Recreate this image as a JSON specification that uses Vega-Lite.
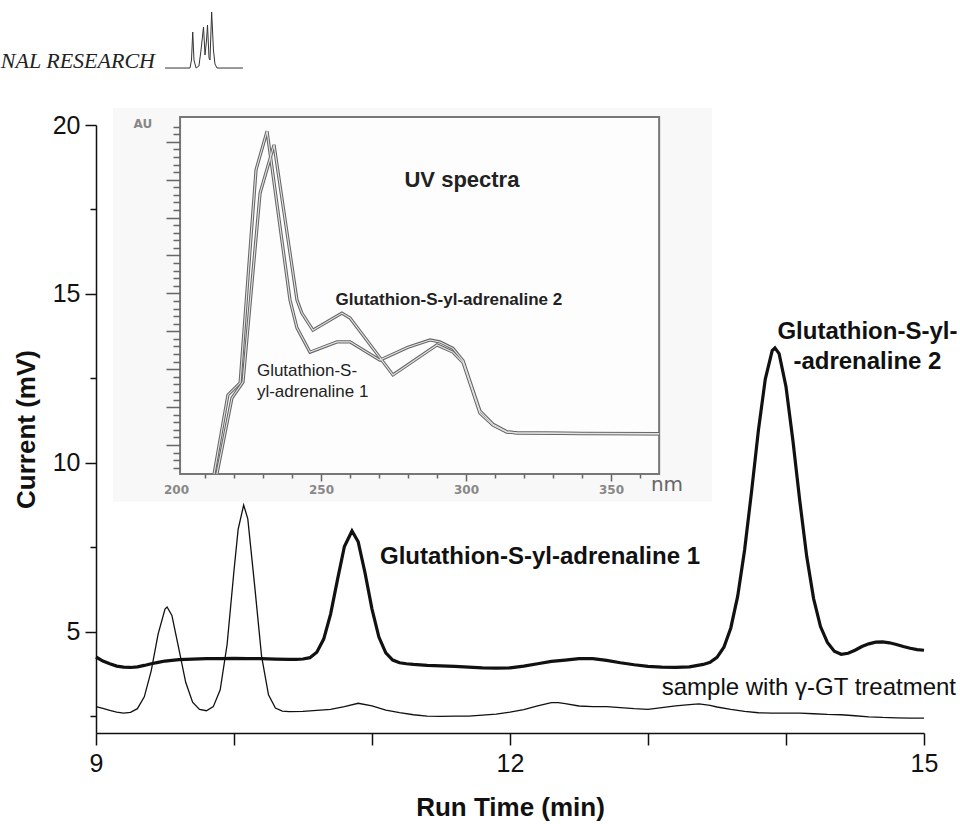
{
  "$schema": "https://vega.github.io/schema/vega-lite/v6.json",
  "width": 828,
  "height": 608,
  "autosize": {"type": "none"},
  "padding": {"left": 96, "top": 125, "right": 36, "bottom": 91},
  "background": "white",
  "config": {"view": {"stroke": null}, "font": "Liberation Sans"},
  "datasets": {
    "untreated": [
      {"t": 9.0, "v": 4.25}, {"t": 9.05, "v": 4.13}, {"t": 9.1, "v": 4.05}, {"t": 9.15, "v": 3.98}, {"t": 9.2, "v": 3.95},
      {"t": 9.25, "v": 3.94}, {"t": 9.3, "v": 3.96}, {"t": 9.35, "v": 4.0}, {"t": 9.4, "v": 4.05}, {"t": 9.45, "v": 4.09},
      {"t": 9.5, "v": 4.13}, {"t": 9.6, "v": 4.17}, {"t": 9.7, "v": 4.19}, {"t": 9.8, "v": 4.2}, {"t": 9.9, "v": 4.2},
      {"t": 10.0, "v": 4.21}, {"t": 10.1, "v": 4.2}, {"t": 10.2, "v": 4.2}, {"t": 10.3, "v": 4.19}, {"t": 10.4, "v": 4.18},
      {"t": 10.45, "v": 4.18}, {"t": 10.5, "v": 4.19}, {"t": 10.55, "v": 4.23}, {"t": 10.6, "v": 4.39}, {"t": 10.65, "v": 4.78},
      {"t": 10.7, "v": 5.52}, {"t": 10.75, "v": 6.54}, {"t": 10.8, "v": 7.52}, {"t": 10.855, "v": 7.98}, {"t": 10.9, "v": 7.66},
      {"t": 10.95, "v": 6.73}, {"t": 11.0, "v": 5.67}, {"t": 11.05, "v": 4.84}, {"t": 11.1, "v": 4.37}, {"t": 11.15, "v": 4.16},
      {"t": 11.2, "v": 4.08}, {"t": 11.25, "v": 4.05}, {"t": 11.3, "v": 4.03}, {"t": 11.4, "v": 4.0}, {"t": 11.5, "v": 3.99},
      {"t": 11.6, "v": 3.97}, {"t": 11.7, "v": 3.95}, {"t": 11.8, "v": 3.93}, {"t": 11.9, "v": 3.92}, {"t": 12.0, "v": 3.93},
      {"t": 12.1, "v": 3.98}, {"t": 12.2, "v": 4.05}, {"t": 12.3, "v": 4.12}, {"t": 12.4, "v": 4.16}, {"t": 12.5, "v": 4.2},
      {"t": 12.6, "v": 4.2}, {"t": 12.7, "v": 4.15}, {"t": 12.8, "v": 4.08}, {"t": 12.9, "v": 4.02}, {"t": 13.0, "v": 3.97},
      {"t": 13.1, "v": 3.95}, {"t": 13.2, "v": 3.94}, {"t": 13.3, "v": 3.96}, {"t": 13.4, "v": 4.03}, {"t": 13.45, "v": 4.09},
      {"t": 13.5, "v": 4.24}, {"t": 13.55, "v": 4.54}, {"t": 13.6, "v": 5.11}, {"t": 13.65, "v": 6.05}, {"t": 13.7, "v": 7.42},
      {"t": 13.75, "v": 9.13}, {"t": 13.8, "v": 10.96}, {"t": 13.85, "v": 12.48}, {"t": 13.9, "v": 13.32}, {"t": 13.92, "v": 13.4},
      {"t": 13.95, "v": 13.23}, {"t": 14.0, "v": 12.25}, {"t": 14.05, "v": 10.66}, {"t": 14.1, "v": 8.87}, {"t": 14.15, "v": 7.23},
      {"t": 14.2, "v": 5.98}, {"t": 14.25, "v": 5.15}, {"t": 14.3, "v": 4.68}, {"t": 14.35, "v": 4.42}, {"t": 14.4, "v": 4.33},
      {"t": 14.45, "v": 4.36}, {"t": 14.5, "v": 4.45}, {"t": 14.55, "v": 4.56}, {"t": 14.6, "v": 4.64}, {"t": 14.65, "v": 4.69},
      {"t": 14.7, "v": 4.7}, {"t": 14.75, "v": 4.67}, {"t": 14.8, "v": 4.62}, {"t": 14.85, "v": 4.56}, {"t": 14.9, "v": 4.51},
      {"t": 14.95, "v": 4.47}, {"t": 15.0, "v": 4.45}
    ],
    "treated": [
      {"t": 9.0, "v": 2.78}, {"t": 9.05, "v": 2.73}, {"t": 9.1, "v": 2.67}, {"t": 9.15, "v": 2.62}, {"t": 9.2, "v": 2.59},
      {"t": 9.25, "v": 2.61}, {"t": 9.3, "v": 2.72}, {"t": 9.35, "v": 3.07}, {"t": 9.4, "v": 3.84}, {"t": 9.45, "v": 4.93},
      {"t": 9.5, "v": 5.67}, {"t": 9.515, "v": 5.73}, {"t": 9.55, "v": 5.48}, {"t": 9.6, "v": 4.5}, {"t": 9.65, "v": 3.5},
      {"t": 9.7, "v": 2.91}, {"t": 9.75, "v": 2.7}, {"t": 9.8, "v": 2.66}, {"t": 9.85, "v": 2.78}, {"t": 9.9, "v": 3.28},
      {"t": 9.95, "v": 4.62}, {"t": 10.0, "v": 6.81}, {"t": 10.03, "v": 8.03}, {"t": 10.07, "v": 8.75}, {"t": 10.1, "v": 8.34},
      {"t": 10.15, "v": 6.35}, {"t": 10.2, "v": 4.27}, {"t": 10.25, "v": 3.13}, {"t": 10.3, "v": 2.74}, {"t": 10.35, "v": 2.65},
      {"t": 10.4, "v": 2.63}, {"t": 10.5, "v": 2.64}, {"t": 10.6, "v": 2.67}, {"t": 10.7, "v": 2.7}, {"t": 10.8, "v": 2.78},
      {"t": 10.9, "v": 2.88}, {"t": 11.0, "v": 2.8}, {"t": 11.1, "v": 2.68}, {"t": 11.2, "v": 2.6}, {"t": 11.3, "v": 2.54},
      {"t": 11.4, "v": 2.5}, {"t": 11.5, "v": 2.49}, {"t": 11.6, "v": 2.5}, {"t": 11.7, "v": 2.5}, {"t": 11.8, "v": 2.53},
      {"t": 11.9, "v": 2.56}, {"t": 12.0, "v": 2.62}, {"t": 12.1, "v": 2.69}, {"t": 12.2, "v": 2.8}, {"t": 12.3, "v": 2.9},
      {"t": 12.35, "v": 2.9}, {"t": 12.4, "v": 2.87}, {"t": 12.5, "v": 2.8}, {"t": 12.6, "v": 2.78}, {"t": 12.7, "v": 2.78},
      {"t": 12.8, "v": 2.75}, {"t": 12.9, "v": 2.72}, {"t": 13.0, "v": 2.7}, {"t": 13.1, "v": 2.75}, {"t": 13.2, "v": 2.8},
      {"t": 13.3, "v": 2.84}, {"t": 13.37, "v": 2.86}, {"t": 13.45, "v": 2.82}, {"t": 13.5, "v": 2.77}, {"t": 13.6, "v": 2.7},
      {"t": 13.7, "v": 2.64}, {"t": 13.8, "v": 2.6}, {"t": 13.9, "v": 2.59}, {"t": 14.0, "v": 2.59}, {"t": 14.1, "v": 2.59},
      {"t": 14.2, "v": 2.57}, {"t": 14.3, "v": 2.55}, {"t": 14.4, "v": 2.54}, {"t": 14.5, "v": 2.51}, {"t": 14.6, "v": 2.48},
      {"t": 14.7, "v": 2.46}, {"t": 14.8, "v": 2.45}, {"t": 14.9, "v": 2.44}, {"t": 15.0, "v": 2.44}
    ],
    "logo": [
      {"t": 9.5, "v": 21.687}, {"t": 9.681, "v": 21.687}, {"t": 9.692, "v": 21.924}, {"t": 9.701, "v": 22.753},
      {"t": 9.71, "v": 21.924}, {"t": 9.725, "v": 21.687}, {"t": 9.746, "v": 21.747}, {"t": 9.761, "v": 22.22},
      {"t": 9.779, "v": 22.901}, {"t": 9.79, "v": 22.072}, {"t": 9.801, "v": 22.516}, {"t": 9.808, "v": 22.96},
      {"t": 9.819, "v": 21.983}, {"t": 9.826, "v": 21.924}, {"t": 9.838, "v": 23.345}, {"t": 9.851, "v": 22.22},
      {"t": 9.862, "v": 21.806}, {"t": 9.877, "v": 21.687}, {"t": 10.065, "v": 21.687}
    ],
    "spectra": [
      {"compound": "adrenaline 1", "nm": 213.1, "au": -0.77}, {"compound": "adrenaline 1", "nm": 217.9, "au": 1.32},
      {"compound": "adrenaline 1", "nm": 222.1, "au": 1.64}, {"compound": "adrenaline 1", "nm": 227.6, "au": 7.26},
      {"compound": "adrenaline 1", "nm": 231.4, "au": 8.28}, {"compound": "adrenaline 1", "nm": 239.3, "au": 3.83},
      {"compound": "adrenaline 1", "nm": 241.7, "au": 3.09}, {"compound": "adrenaline 1", "nm": 246.2, "au": 2.45},
      {"compound": "adrenaline 1", "nm": 255.5, "au": 2.72}, {"compound": "adrenaline 1", "nm": 260.0, "au": 2.72},
      {"compound": "adrenaline 1", "nm": 270.3, "au": 2.24}, {"compound": "adrenaline 1", "nm": 280.0, "au": 2.58},
      {"compound": "adrenaline 1", "nm": 287.6, "au": 2.77}, {"compound": "adrenaline 1", "nm": 291.0, "au": 2.72},
      {"compound": "adrenaline 1", "nm": 295.5, "au": 2.55}, {"compound": "adrenaline 1", "nm": 299.0, "au": 2.22},
      {"compound": "adrenaline 1", "nm": 304.8, "au": 0.9}, {"compound": "adrenaline 1", "nm": 309.3, "au": 0.55},
      {"compound": "adrenaline 1", "nm": 314.1, "au": 0.35}, {"compound": "adrenaline 1", "nm": 317.6, "au": 0.32},
      {"compound": "adrenaline 1", "nm": 340.0, "au": 0.31}, {"compound": "adrenaline 1", "nm": 366.6, "au": 0.3},
      {"compound": "adrenaline 2", "nm": 214.1, "au": -0.77}, {"compound": "adrenaline 2", "nm": 219.3, "au": 1.24},
      {"compound": "adrenaline 2", "nm": 223.1, "au": 1.66}, {"compound": "adrenaline 2", "nm": 229.0, "au": 6.65},
      {"compound": "adrenaline 2", "nm": 233.8, "au": 7.92}, {"compound": "adrenaline 2", "nm": 241.7, "au": 3.83},
      {"compound": "adrenaline 2", "nm": 243.4, "au": 3.48}, {"compound": "adrenaline 2", "nm": 247.2, "au": 3.03},
      {"compound": "adrenaline 2", "nm": 257.2, "au": 3.48}, {"compound": "adrenaline 2", "nm": 260.0, "au": 3.35},
      {"compound": "adrenaline 2", "nm": 274.8, "au": 1.85}, {"compound": "adrenaline 2", "nm": 290.0, "au": 2.64},
      {"compound": "adrenaline 2", "nm": 295.5, "au": 2.45}, {"compound": "adrenaline 2", "nm": 299.0, "au": 2.17},
      {"compound": "adrenaline 2", "nm": 304.8, "au": 0.84}, {"compound": "adrenaline 2", "nm": 309.3, "au": 0.52},
      {"compound": "adrenaline 2", "nm": 314.1, "au": 0.34}, {"compound": "adrenaline 2", "nm": 317.6, "au": 0.32},
      {"compound": "adrenaline 2", "nm": 340.0, "au": 0.3}, {"compound": "adrenaline 2", "nm": 366.6, "au": 0.29}
    ]
  },
  "layer": [
    {
      "data": {"name": "untreated"},
      "mark": {"type": "line", "stroke": "#111", "strokeWidth": 3.2},
      "encoding": {
        "x": {"field": "t", "type": "quantitative",
          "scale": {"domain": [9, 15], "nice": false, "zero": false},
          "axis": {"orient": "bottom", "values": [9, 10, 11, 12, 13, 14, 15], "labelExpr": "datum.value % 3 === 0 ? datum.label : ''",
            "labelOverlap": false, "labelFlush": false, "tickSize": 12, "tickColor": "#111", "tickWidth": 1.5,
            "domainColor": "#111", "domainWidth": 1.5, "labelFontSize": 25, "labelColor": "#111", "labelPadding": 6,
            "labelFont": "Liberation Sans", "grid": false,
            "title": "Run Time (min)", "titleFont": "Liberation Sans", "titleFontSize": 26, "titleFontWeight": "bold",
            "titleColor": "#111", "titleY": 74, "titleBaseline": "middle"}},
        "y": {"field": "v", "type": "quantitative",
          "scale": {"domain": [2, 20], "nice": false, "zero": false},
          "axis": {"orient": "left", "values": [2.5, 5, 7.5, 10, 12.5, 15, 17.5, 20], "labelExpr": "datum.value % 5 === 0 ? datum.label : ''",
            "labelOverlap": false, "labelFlush": false,
            "tickSize": {"condition": {"test": "datum.value % 5 === 0", "value": 11}, "value": 6},
            "tickColor": "#111", "tickWidth": 1.5, "domainColor": "#111", "domainWidth": 1.5,
            "labelFontSize": 25, "labelColor": "#111", "labelPadding": 5, "labelFont": "Liberation Sans", "grid": false,
            "title": "Current (mV)", "titleFont": "Liberation Sans", "titleFontSize": 26, "titleFontWeight": "bold",
            "titleColor": "#111", "titleX": -70, "titleY": 304, "titleBaseline": "middle", "titleAlign": "center"}}
      }
    },
    {
      "data": {"name": "treated"},
      "mark": {"type": "line", "stroke": "#111", "strokeWidth": 1.3},
      "encoding": {
        "x": {"field": "t", "type": "quantitative", "scale": {"domain": [9, 15], "nice": false, "zero": false}, "axis": null},
        "y": {"field": "v", "type": "quantitative", "scale": {"domain": [2, 20], "nice": false, "zero": false}, "axis": null}
      }
    },
    {
      "data": {"name": "logo"},
      "mark": {"type": "line", "stroke": "#333", "strokeWidth": 1},
      "encoding": {
        "x": {"field": "t", "type": "quantitative", "scale": {"domain": [9, 15], "nice": false, "zero": false}, "axis": null},
        "y": {"field": "v", "type": "quantitative", "scale": {"domain": [2, 20], "nice": false, "zero": false}, "axis": null}
      }
    },
    {
      "data": {"values": [{}]},
      "mark": {"type": "text", "text": "NAL  RESEARCH", "font": "Liberation Serif", "fontStyle": "italic", "fontSize": 22, "fill": "#222", "align": "left", "baseline": "alphabetic"},
      "encoding": {
        "x": {"datum": 8.31, "type": "quantitative", "scale": {"domain": [9, 15], "nice": false, "zero": false}, "axis": null},
        "y": {"datum": 21.687, "type": "quantitative", "scale": {"domain": [2, 20], "nice": false, "zero": false}, "axis": null}
      }
    },
    {
      "data": {"values": [{}]},
      "mark": {"type": "text", "text": "Glutathion-S-yl-adrenaline 1", "font": "Liberation Sans", "fontWeight": "bold", "fontSize": 24, "fill": "#111", "align": "left", "baseline": "middle"},
      "encoding": {
        "x": {"datum": 11.058, "type": "quantitative", "scale": {"domain": [9, 15], "nice": false, "zero": false}, "axis": null},
        "y": {"datum": 7.2, "type": "quantitative", "scale": {"domain": [2, 20], "nice": false, "zero": false}, "axis": null}
      }
    },
    {
      "data": {"values": [{}]},
      "mark": {"type": "text", "text": ["Glutathion-S-yl-", "-adrenaline 2"], "lineHeight": 30, "font": "Liberation Sans", "fontWeight": "bold", "fontSize": 24, "fill": "#111", "align": "center", "baseline": "middle"},
      "encoding": {
        "x": {"datum": 14.59, "type": "quantitative", "scale": {"domain": [9, 15], "nice": false, "zero": false}, "axis": null},
        "y": {"datum": 13.87, "type": "quantitative", "scale": {"domain": [2, 20], "nice": false, "zero": false}, "axis": null}
      }
    },
    {
      "data": {"values": [{}]},
      "mark": {"type": "text", "text": "sample with γ-GT treatment", "font": "Liberation Sans", "fontSize": 24, "fill": "#111", "align": "right", "baseline": "middle"},
      "encoding": {
        "x": {"datum": 15.232, "type": "quantitative", "scale": {"domain": [9, 15], "nice": false, "zero": false}, "axis": null},
        "y": {"datum": 3.33, "type": "quantitative", "scale": {"domain": [2, 20], "nice": false, "zero": false}, "axis": null}
      }
    },
    {
      "data": {"values": [{}]},
      "mark": {"type": "rect", "fill": "#f8f8f8"},
      "encoding": {
        "x": {"datum": 178.3, "type": "quantitative", "scale": {"domain": [172.41, 457.93], "nice": false, "zero": false},
          "axis": {"orient": "bottom", "offset": -259, "zindex": 1, "values": [200, 210, 220, 230, 240, 250, 260, 270, 280, 290, 300, 310, 320, 330, 340, 350, 360],
            "domain": false, "grid": false, "labelOverlap": false, "labelFlush": false,
            "tickSize": {"condition": {"test": "datum.value % 50 === 0", "value": 7}, "value": 4},
            "tickOpacity": {"condition": {"test": "datum.value === 200", "value": 0}, "value": 1},
            "tickColor": "#666", "tickWidth": 1.5,
            "labelExpr": "datum.value % 50 === 0 ? datum.label : ''",
            "labelFont": "DejaVu Sans", "labelFontWeight": "bold", "labelFontSize": 12, "labelColor": "#888", "labelPadding": 3,
            "title": null}},
        "x2": {"datum": 384.8},
        "y": {"datum": -1.5, "type": "quantitative", "scale": {"domain": [-7.599, 8.443], "nice": false, "zero": false},
          "axis": {"orient": "left", "offset": -84, "zindex": 1,
            "values": [-0.6, -0.4, -0.2, 0, 0.2, 0.4, 0.6, 0.8, 1, 1.2, 1.4, 1.6, 1.8, 2, 2.2, 2.4, 2.6, 2.8, 3, 3.2, 3.4, 3.6, 3.8, 4, 4.2, 4.4, 4.6, 4.8, 5, 5.2, 5.4, 5.6, 5.8, 6, 6.2, 6.4, 6.6, 6.8, 7, 7.2, 7.4, 7.6, 7.8, 8, 8.2, 8.4, 8.6],
            "domain": false, "grid": false, "labels": false,
            "tickSize": {"condition": {"test": "abs(datum.value - round(datum.value)) < 0.01", "value": 14}, "value": 7},
            "tickColor": "#666", "tickWidth": 1.5, "title": null}},
        "y2": {"datum": 8.89}
      }
    },
    {
      "data": {"values": [{}]},
      "mark": {"type": "rect", "fill": "#fdfdfd", "stroke": "#777", "strokeWidth": 2},
      "encoding": {
        "x": {"datum": 201.4, "type": "quantitative", "scale": {"domain": [172.41, 457.93], "nice": false, "zero": false}, "axis": null},
        "x2": {"datum": 366.6},
        "y": {"datum": -0.765, "type": "quantitative", "scale": {"domain": [-7.599, 8.443], "nice": false, "zero": false}, "axis": null},
        "y2": {"datum": 8.654}
      }
    },
    {
      "data": {"name": "spectra"},
      "mark": {"type": "line", "stroke": "#666", "strokeWidth": 3.2},
      "encoding": {
        "x": {"field": "nm", "type": "quantitative", "scale": {"domain": [172.41, 457.93], "nice": false, "zero": false}, "axis": null},
        "y": {"field": "au", "type": "quantitative", "scale": {"domain": [-7.599, 8.443], "nice": false, "zero": false}, "axis": null},
        "detail": {"field": "compound"}
      }
    },
    {
      "data": {"name": "spectra"},
      "mark": {"type": "line", "stroke": "#e4e4e4", "strokeWidth": 1.1},
      "encoding": {
        "x": {"field": "nm", "type": "quantitative", "scale": {"domain": [172.41, 457.93], "nice": false, "zero": false}, "axis": null},
        "y": {"field": "au", "type": "quantitative", "scale": {"domain": [-7.599, 8.443], "nice": false, "zero": false}, "axis": null},
        "detail": {"field": "compound"}
      }
    },
    {
      "data": {"values": [{}]},
      "mark": {"type": "text", "text": "UV spectra", "font": "Liberation Sans", "fontWeight": "bold", "fontSize": 22, "fill": "#222", "align": "center", "baseline": "middle"},
      "encoding": {
        "x": {"datum": 298.6, "type": "quantitative", "scale": {"domain": [172.41, 457.93], "nice": false, "zero": false}, "axis": null},
        "y": {"datum": 6.99, "type": "quantitative", "scale": {"domain": [-7.599, 8.443], "nice": false, "zero": false}, "axis": null}
      }
    },
    {
      "data": {"values": [{}]},
      "mark": {"type": "text", "text": "Glutathion-S-yl-adrenaline 2", "font": "Liberation Sans", "fontWeight": "bold", "fontSize": 17, "fill": "#222", "align": "center", "baseline": "middle"},
      "encoding": {
        "x": {"datum": 294.1, "type": "quantitative", "scale": {"domain": [172.41, 457.93], "nice": false, "zero": false}, "axis": null},
        "y": {"datum": 3.83, "type": "quantitative", "scale": {"domain": [-7.599, 8.443], "nice": false, "zero": false}, "axis": null}
      }
    },
    {
      "data": {"values": [{}]},
      "mark": {"type": "text", "text": ["Glutathion-S-", "yl-adrenaline 1"], "lineHeight": 21, "font": "Liberation Sans", "fontSize": 17, "fill": "#222", "align": "left", "baseline": "middle"},
      "encoding": {
        "x": {"datum": 227.9, "type": "quantitative", "scale": {"domain": [172.41, 457.93], "nice": false, "zero": false}, "axis": null},
        "y": {"datum": 1.95, "type": "quantitative", "scale": {"domain": [-7.599, 8.443], "nice": false, "zero": false}, "axis": null}
      }
    },
    {
      "data": {"values": [{}]},
      "mark": {"type": "text", "text": "AU", "font": "DejaVu Sans", "fontWeight": "bold", "fontSize": 12, "fill": "#888", "align": "center", "baseline": "middle"},
      "encoding": {
        "x": {"datum": 188.6, "type": "quantitative", "scale": {"domain": [172.41, 457.93], "nice": false, "zero": false}, "axis": null},
        "y": {"datum": 8.47, "type": "quantitative", "scale": {"domain": [-7.599, 8.443], "nice": false, "zero": false}, "axis": null}
      }
    },
    {
      "data": {"values": [{}]},
      "mark": {"type": "text", "text": "nm", "font": "DejaVu Sans", "fontSize": 20, "fill": "#666", "align": "center", "baseline": "middle"},
      "encoding": {
        "x": {"datum": 369.3, "type": "quantitative", "scale": {"domain": [172.41, 457.93], "nice": false, "zero": false}, "axis": null},
        "y": {"datum": -1.06, "type": "quantitative", "scale": {"domain": [-7.599, 8.443], "nice": false, "zero": false}, "axis": null}
      }
    }
  ],
  "resolve": {"scale": {"x": "independent", "y": "independent"}}
}
